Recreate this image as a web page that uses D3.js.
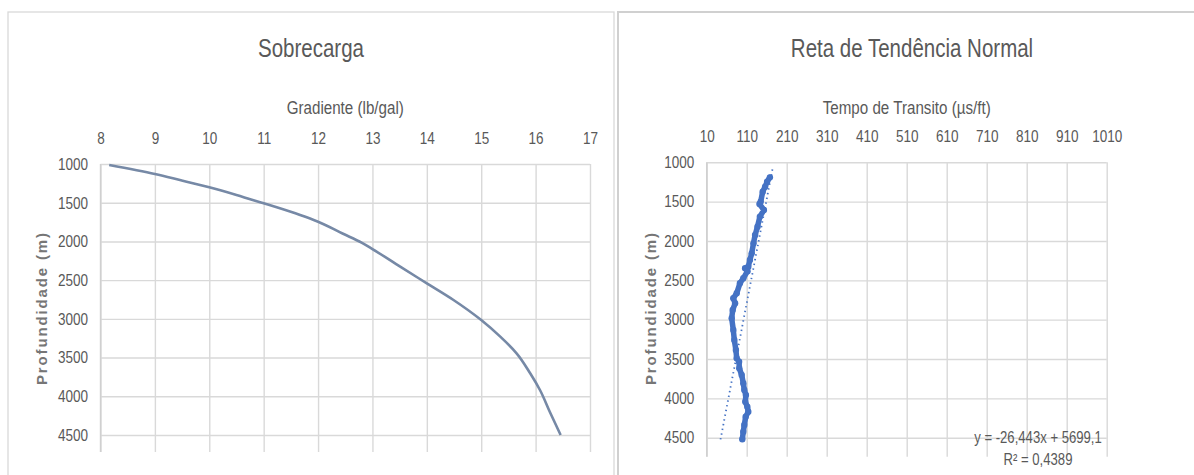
<!DOCTYPE html>
<html>
<head>
<meta charset="utf-8">
<script src="https://cdn.jsdelivr.net/npm/d3@7/dist/d3.min.js"></script>
<style>
  body { margin: 0; background: #fff; }
  svg text { font-family: "Liberation Sans", Arial, sans-serif; fill: #595959; }
  .grid line { stroke: #d9d9d9; stroke-width: 1.4; }
  .grid text { font-size: 16.5px; }
</style>
</head>
<body>
<svg id="chart"></svg>
<script>
// --- Sobrecarga (gradiente x profundidade)
const gradiente = [8.16, 9.0, 9.46, 10.0, 10.5, 11.0, 11.24, 11.67, 12.0, 12.45, 12.8, 13.0,
  13.51, 14.0, 14.49, 15.0, 15.35, 15.65, 15.9, 16.08, 16.26, 16.46];
const profSobrecarga = [1013, 1129, 1207, 1301, 1400, 1508, 1560, 1659, 1745, 1898, 2015, 2098,
  2326, 2541, 2756, 3015, 3230, 3445, 3703, 3919, 4200, 4500];

// --- Reta de tendencia normal (tempo de transito x profundidade)
const transito = [168, 161, 156, 150, 145, 142, 153, 143, 137, 131, 127, 122.5, 118, 114, 106, 112,
  101.5, 93, 85, 76.5, 81, 75, 72.5, 76.5, 79, 83, 85, 91, 91.5, 97.5, 101.5, 104, 108, 106.5,
  111.5, 114, 107.5, 104, 101.5, 99];
const profTransito = [1191, 1246, 1310, 1373, 1500, 1530, 1606, 1690, 1818, 1924, 2030, 2157, 2241,
  2327, 2347, 2384, 2474, 2538, 2665, 2728, 2792, 2877, 2982, 3131, 3258, 3385, 3491, 3534, 3618,
  3703, 3808, 3894, 3957, 4042, 4106, 4169, 4233, 4339, 4423, 4520];

const trendSlope = -26.443, trendIntercept = 5699.1, trendR2 = 0.4389;
const trendDepth = [1090, 4555];

const gradTicks = [8, 9, 10, 11, 12, 13, 14, 15, 16, 17];
const transitoTicks = [10, 110, 210, 310, 410, 510, 610, 710, 810, 910, 1010];
const profTicks = [1000, 1500, 2000, 2500, 3000, 3500, 4000, 4500];

const width = 1194, height = 475;
const svg = d3.select("#chart").attr("width", width).attr("height", height);

// panel frames
svg.append("rect").attr("x", 8).attr("y", 12).attr("width", 606).attr("height", 480)
  .attr("fill", "none").attr("stroke", "#d9d9d9").attr("stroke-width", 1.3);
svg.append("rect").attr("x", 618).attr("y", 12).attr("width", 600).attr("height", 480)
  .attr("fill", "none").attr("stroke", "#d0d0d0").attr("stroke-width", 2);

function drawPanel(p) {
  const x = d3.scaleLinear().domain(d3.extent(p.xTicks)).range([p.left, p.right]);
  const y = d3.scaleLinear().domain([1000, 4500]).range([p.top, p.y4500]);

  const g = svg.append("g");

  g.append("g")
    .attr("class", "grid")
    .attr("transform", `translate(0,${p.top})`)
    .call(d3.axisTop(x).tickValues(p.xTicks).tickSize(-(p.bottom - p.top)).tickPadding(20).tickFormat(d3.format("d")))
    .call(a => a.select(".domain").remove());

  g.append("g")
    .attr("class", "grid")
    .attr("transform", `translate(${p.left},0)`)
    .call(d3.axisLeft(y).tickValues(profTicks).tickSize(-(p.right - p.left)).tickPadding(12.5).tickFormat(d3.format("d")))
    .call(a => a.select(".domain").remove());

  g.append("line")
    .attr("x1", p.left).attr("x2", p.left)
    .attr("y1", p.top).attr("y2", p.bottom)
    .attr("stroke", "#d0d0d0").attr("stroke-width", 1.4);

  g.append("text")
    .attr("x", p.titleX).attr("y", 56.7)
    .attr("text-anchor", "middle")
    .style("font-size", "25px")
    .text(p.title);

  g.append("text")
    .attr("x", (p.left + p.right) / 2).attr("y", 114)
    .attr("text-anchor", "middle")
    .style("font-size", "18.5px")
    .text(p.xLabel);

  g.append("text")
    .attr("class", "ylabel")
    .attr("transform", `translate(${p.yLabelX},309) rotate(-90)`)
    .attr("text-anchor", "middle")
    .attr("dy", "0.35em")
    .attr("textLength", 152)
    .attr("lengthAdjust", "spacing")
    .style("font-weight", "bold")
    .style("font-size", "15px")
    .style("fill", "#767676")
    .text("Profundidade (m)");

  return { g, x, y };
}

// left chart
const left = drawPanel({
  left: 100.5, right: 590, top: 164, y4500: 435, bottom: 452,
  xTicks: gradTicks, title: "Sobrecarga", titleX: 311,
  xLabel: "Gradiente (lb/gal)", yLabelX: 42
});

const sobData = gradiente.map((v, i) => ({ x: v, y: profSobrecarga[i] }));
left.g.append("path")
  .datum(sobData)
  .attr("fill", "none")
  .attr("stroke", "#7689a6")
  .attr("stroke-width", 2.6)
  .attr("stroke-linejoin", "round")
  .attr("d", d3.line().curve(d3.curveMonotoneY).x(d => left.x(d.x)).y(d => left.y(d.y)));

// right chart
const right = drawPanel({
  left: 706.7, right: 1106.7, top: 162.3, y4500: 437.7, bottom: 456.7,
  xTicks: transitoTicks, title: "Reta de Tendência Normal", titleX: 912,
  xLabel: "Tempo de Transito (µs/ft)", yLabelX: 650.5
});

const rtnData = transito.map((v, i) => ({ x: v, y: profTransito[i] }));
right.g.append("path")
  .datum(rtnData)
  .attr("fill", "none")
  .attr("stroke", "#4472c4")
  .attr("stroke-width", 5.5)
  .attr("stroke-linejoin", "round")
  .attr("stroke-linecap", "round")
  .attr("d", d3.line().x(d => right.x(d.x)).y(d => right.y(d.y)));

right.g.selectAll(".pt")
  .data(rtnData)
  .enter()
  .append("circle")
  .attr("class", "pt")
  .attr("cx", d => right.x(d.x))
  .attr("cy", d => right.y(d.y))
  .attr("r", 3.2)
  .attr("fill", "#4472c4");

// linear trendline
const trendData = trendDepth.map(d => ({ x: (d - trendIntercept) / trendSlope, y: d }));
right.g.append("path")
  .datum(trendData)
  .attr("fill", "none")
  .attr("stroke", "#4472c4")
  .attr("stroke-width", 1.8)
  .attr("stroke-dasharray", "1.4 3.4")
  .attr("d", d3.line().x(d => right.x(d.x)).y(d => right.y(d.y)));

const fmt = v => String(v).replace(".", ",");
right.g.append("text")
  .attr("x", 1038).attr("y", 443)
  .attr("text-anchor", "middle")
  .style("font-size", "16px")
  .text(`y = ${fmt(trendSlope)}x + ${fmt(trendIntercept)}`);
right.g.append("text")
  .attr("x", 1038).attr("y", 465)
  .attr("text-anchor", "middle")
  .style("font-size", "16px")
  .text(`R² = ${fmt(trendR2)}`);

// narrow the text horizontally around its anchor (Calibri-like width)
svg.selectAll("text:not(.ylabel)").each(function() {
  const t = d3.select(this);
  const ax = +t.attr("x") || 0, ay = +t.attr("y") || 0;
  t.attr("transform", `translate(${ax},${ay}) scale(0.82,1) translate(${-ax},${-ay})`);
});
</script>
</body>
</html>
